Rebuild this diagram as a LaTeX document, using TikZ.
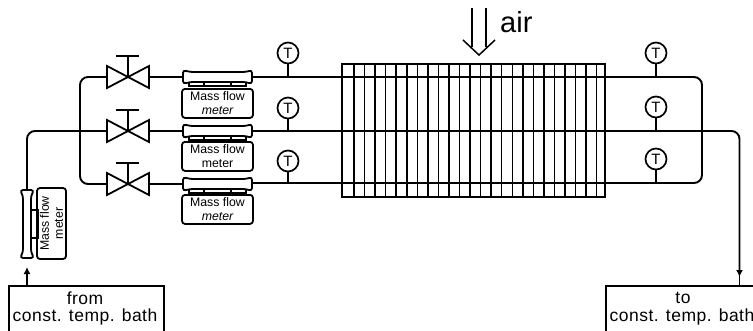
\documentclass[tikz,border=0pt]{standalone}
\usepackage{fontspec}
\usetikzlibrary{arrows.meta}
\setmainfont{Liberation Sans}
\newfontfamily\bathfont[LetterSpace=2.8]{Liberation Sans}
\begin{document}
\begin{tikzpicture}[x=1pt,y=-1pt,
  pipe/.style={line width=1.9pt,rounded corners=8pt},
  line/.style={line width=1.9pt},
  fin/.style={line width=1.5pt},
  mbox/.style={draw,line width=1.8pt,rounded corners=3pt,inner sep=0pt,align=center,font=\fontsize{12.3}{14}\selectfont},
  gauge/.style={draw,circle,line width=1.7pt,minimum size=21pt,inner sep=0pt,fill=white,font=\fontsize{15}{15}\selectfont},
  bath/.style={draw,line width=2pt,inner sep=0pt},
  bathtext/.style={font=\bathfont\fontsize{17.5}{19}\selectfont},
  tip/.style={-{Latex[length=7pt,width=7pt]}}
]
\useasboundingbox (0,0) rectangle (753,330);
% matrix frame
\node[draw,line width=1.8pt,minimum width=263pt,minimum height=133pt,inner sep=0pt] (core) at (473.5,130.5) {};
\foreach \k in {0,...,23}{
  \draw[fin] ({354+\k*10.55},64) -- ({354+\k*10.55},197);
}
% pipes
\draw[pipe] (107,77) -- (80,77) -- (80,184) -- (107,184);
\draw[pipe] (253,77) -- (702,77) -- (702,183) -- (253,183);
\draw[pipe] (27,190) -- (27,131) -- (107,131);
\draw[line] (149,131) -- (183,131);
\draw[line] (149,77) -- (183,77);
\draw[line] (149,184) -- (183,184);
\draw[pipe] (253,131) -- (739.5,131) -- (739.5,271);
% inlet and outlet boxes
\node[bath,minimum width=155pt,minimum height=60pt,anchor=north west] (inbox) at (7.5,285) {};
\node[bath,minimum width=170pt,minimum height=60pt,anchor=north west] (outbox) at (605,285) {};
\node[bathtext] (fromtxt) at (85,298) {from};
\node[bathtext] (consta) at (85,317) {const. temp. bath};
\node[bathtext] (totxt) at (683,298) {to};
\node[bathtext] (constb) at (682,317) {const. temp. bath};
\draw[line,tip] (27,285) -- (27,267);
\draw[line,tip] (739.5,268) -- (739.5,277);
\draw[line] (739.5,276) -- (739.5,285);
% valves
\foreach \n/\y/\b in {a/77/56,b/131/110,c/184/163}{
  \draw[line width=1.8pt,fill=white,line join=miter] (107,{\y-11}) -- (149,{\y+11}) -- (149,{\y-11}) -- (107,{\y+11}) -- cycle;
  \draw[line width=1.8pt] (128,\y) -- (128,\b);
  \draw[line width=2pt] (116,\b) -- (139,\b);
}
% horizontal flow meters
\foreach \n/\y/\b/\l/\m in {a/77/88/Mass flow/\itshape meter,b/131/141/Mass flow/meter,c/184/194/Mass flow/\itshape meter}{
  \draw[line width=1.3pt,fill=white] (189,{\y+5}) rectangle (246,{\y+9});
  \draw[line width=1.3pt] (204,{\y+5}) -- (204,{\y+9}) (231,{\y+5}) -- (231,{\y+9});
  \draw[line width=1.8pt,fill=white,rounded corners=3pt] (183,{\y-7}) -- (190,{\y-5}) -- (246,{\y-5}) -- (252,{\y-7}) -- (252,{\y+7}) -- (246,{\y+5}) -- (190,{\y+5}) -- (183,{\y+7}) -- cycle;
  \node[mbox,minimum width=71pt,minimum height=29pt,anchor=north] (m\n) at (217.5,\b) {\l\\\m};
}
% vertical flow meter
\draw[line width=1.3pt,fill=white] (31,210) rectangle (38,238);
\draw[line width=1.8pt,fill=white,rounded corners=3pt] (20,190) -- (23,196) -- (23,252) -- (20,258) -- (34,258) -- (31,252) -- (31,196) -- (34,190) -- cycle;
\node[mbox,minimum width=71pt,minimum height=29pt,rotate=90] (mv) at (51.5,223.5) {Mass flow\\meter};
% gauges
\foreach \n/\x/\y/\p in {la/288/53/77,lb/288/108/131,lc/288/161/184,ra/656/53/77,rb/656/107/131,rc/656/159/183}{
  \node[gauge] (g\n) at (\x,\y) {T};
  \draw[line width=1.7pt] (g\n.south) -- (\x,\p);
}
% air
\draw[line width=1.5pt] (472,8) -- (472,47);
\draw[line width=1.5pt] (486,8) -- (486,47);
\draw[line width=1.5pt] (463,40) -- (479,55) -- (495,40);
\node[font=\fontsize{29}{29}\selectfont,anchor=base west,inner sep=0pt] (air) at (500,32) {air};
\end{tikzpicture}
\end{document}
